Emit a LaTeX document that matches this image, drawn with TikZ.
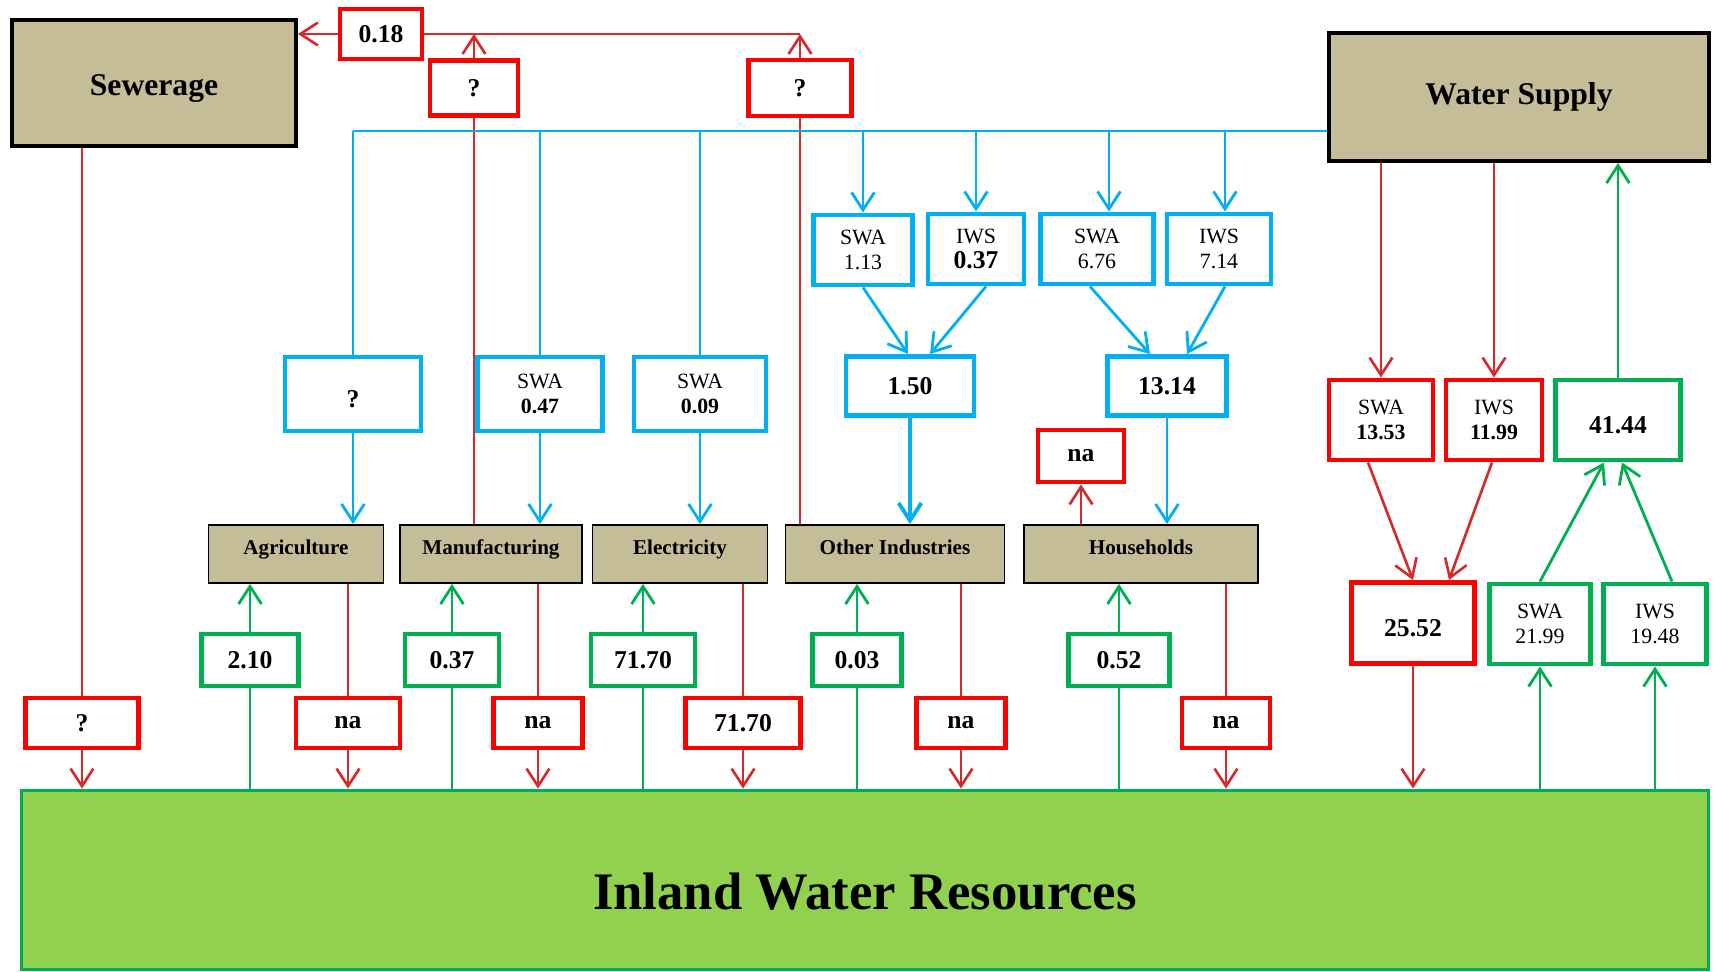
\documentclass[tikz,border=0pt]{standalone}
\usepackage{fontspec}
\setmainfont{Liberation Serif}
\usetikzlibrary{arrows.meta}
\definecolor{sectortan}{HTML}{C4BD97}
\definecolor{flowred}{HTML}{D42A2A}
\definecolor{boxred}{HTML}{FF0000}
\definecolor{flowblue}{HTML}{00B0F0}
\definecolor{flowgreen}{HTML}{00B050}
\definecolor{landgreen}{HTML}{92D050}

\begin{document}
\begin{tikzpicture}[x=0.1mm,y=-0.1mm,
  >={Straight Barb[length=5pt,width=6.5pt]},
  box/.style={fill=white,line width=1.4pt,inner sep=1pt,minimum height=5mm,align=center,font=\fontsize{7.3}{8}\selectfont\bfseries},
  redbox/.style={box,draw=boxred},
  bluebox/.style={box,draw=flowblue},
  greenbox/.style={box,draw=flowgreen},
  pair/.style={font=\fontsize{6.2}{7}\selectfont},
  sector/.style={draw=black,fill=sectortan,line width=0.5pt,minimum height=5.8mm,text height=3pt,text depth=3pt,font=\fontsize{6}{7}\selectfont\bfseries},
  head/.style={draw=black,fill=sectortan,line width=1.1pt,font=\fontsize{9}{10}\selectfont\bfseries},
  redline/.style={draw=flowred,line width=0.75pt},
  blueline/.style={draw=flowblue,line width=0.8pt},
  greenline/.style={draw=flowgreen,line width=0.8pt}]
  \useasboundingbox (0,0) rectangle (1718,972);

  % main units
  \node [head,minimum width=28.4mm,minimum height=12.6mm,text height=8pt,text depth=1pt] (sewer) at (154,83) {Sewerage};
  \node [head,minimum width=38mm,minimum height=12.8mm] (supply) at (1519,97) {Water Supply};
  \node [draw=flowgreen,fill=landgreen,line width=1.1pt,minimum width=168.7mm,minimum height=17.9mm,text height=17pt,text depth=0pt,font=\fontsize{15}{18}\selectfont\bfseries] (inland) at (865,880) {Inland Water Resources};

  % sectors
  \node [sector,minimum width=17.5mm] (agri) at (296,554) {Agriculture};
  \node [sector,minimum width=18.2mm] (manu) at (491,554) {Manufacturing};
  \node [sector,minimum width=17.5mm] (elec) at (680,554) {Electricity};
  \node [sector,minimum width=21.9mm] (other) at (895,554) {Other Industries};
  \node [sector,minimum width=23.4mm] (house) at (1141,554) {Households};

  % flows to sewerage
  \node [redbox,minimum width=8.2mm] (sewtotal) at (381,34) {0.18};
  \node [redbox,minimum width=8.8mm,minimum height=5.5mm] (sewmanu) at (474,88) {?};
  \node [redbox,minimum width=10.3mm,minimum height=5.6mm] (sewother) at (800,88) {?};

  % water supplied to the sectors
  \coordinate (bus) at (353,131);
  \node [bluebox,minimum width=13.6mm,minimum height=7.4mm] (useagri) at (353,394) {\mbox{}\\?};
  \node [bluebox,pair,minimum width=12.5mm,minimum height=7.4mm] (usemanu) at (540,394) {SWA\\\textbf{0.47}};
  \node [bluebox,pair,minimum width=13.2mm,minimum height=7.4mm] (useelec) at (700,394) {SWA\\\textbf{0.09}};
  \node [bluebox,pair,minimum width=9.9mm,minimum height=7mm] (swaother) at (863,250) {SWA\\1.13};
  \node [bluebox,pair,minimum width=9.6mm,minimum height=7mm] (iwsother) at (976,249) {IWS\\\textbf{\fontsize{7.3}{7}\selectfont 0.37}};
  \node [bluebox,pair,minimum width=11.3mm,minimum height=7mm] (swahouse) at (1097,249) {SWA\\6.76};
  \node [bluebox,pair,minimum width=10.4mm,minimum height=7mm] (iwshouse) at (1219,249) {IWS\\7.14};
  \node [bluebox,minimum width=12.8mm,minimum height=5.9mm] (useother) at (910,386) {1.50};
  \node [bluebox,minimum width=11.9mm,minimum height=5.9mm] (usehouse) at (1167,386) {13.14};
  \node [redbox,minimum width=8.6mm,minimum height=5.2mm] (houseloss) at (1081,456) {na};

  % abstraction and discharge
  \node [greenbox,minimum width=9.7mm,minimum height=5.2mm] (absagri) at (250,660) {2.10};
  \node [greenbox,minimum width=9.4mm,minimum height=5.2mm] (absmanu) at (452,660) {0.37};
  \node [greenbox,minimum width=10.4mm,minimum height=5.2mm] (abselec) at (643,660) {71.70};
  \node [greenbox,minimum width=8.9mm,minimum height=5.2mm] (absother) at (857,660) {0.03};
  \node [greenbox,minimum width=10.1mm,minimum height=5.2mm] (abshouse) at (1119,660) {0.52};
  \node [redbox,minimum width=11.3mm] (dissewer) at (82,723) {?};
  \node [redbox,minimum width=10.4mm] (disagri) at (348,723) {na};
  \node [redbox,minimum width=8.9mm] (dismanu) at (538,723) {na};
  \node [redbox,minimum width=11.5mm] (diselec) at (743,723) {71.70};
  \node [redbox,minimum width=8.9mm] (disother) at (961,723) {na};
  \node [redbox,minimum width=8.8mm] (dishouse) at (1226,723) {na};

  % water supply side
  \node [redbox,pair,minimum width=10.4mm,minimum height=8mm] (swasupply) at (1381,420) {SWA\\\textbf{13.53}};
  \node [redbox,pair,minimum width=9.6mm,minimum height=8mm] (iwssupply) at (1494,420) {IWS\\\textbf{11.99}};
  \node [greenbox,minimum width=12.5mm,minimum height=8mm] (abssupply) at (1618,420) {\mbox{}\\41.44};
  \node [redbox,minimum width=12.3mm,minimum height=8.1mm] (dissupply) at (1413,623) {\mbox{}\\25.52};
  \node [greenbox,pair,minimum width=10.1mm,minimum height=8mm] (swaabs) at (1540,624) {SWA\\21.99};
  \node [greenbox,pair,minimum width=10.3mm,minimum height=8mm] (iwsabs) at (1655,624) {IWS\\19.48};

  % red: to sewerage
  \draw [redline,->] (sewtotal) -- (sewtotal -| sewer.east);
  \draw [redline] (sewtotal) -- (sewtotal -| sewother);
  \draw [redline,->] (sewmanu) -- (sewmanu |- sewtotal);
  \draw [redline,->] (sewother) -- (sewother |- sewtotal);
  \draw [redline] (manu.north -| sewmanu) -- (sewmanu);
  \draw [redline] (other.north -| sewother) -- (sewother);

  % blue: distribution
  \draw [blueline] (bus) -- (bus -| supply.west);
  \draw [blueline] (bus) -- (useagri);
  \draw [blueline] (bus -| usemanu) -- (usemanu);
  \draw [blueline] (bus -| useelec) -- (useelec);
  \draw [blueline,->] (bus -| swaother) -- (swaother);
  \draw [blueline,->] (bus -| iwsother) -- (iwsother);
  \draw [blueline,->] ([xshift=1.2mm]bus -| swahouse) -- ([xshift=1.2mm]swahouse.north);
  \draw [blueline,->] ([xshift=0.6mm]bus -| iwshouse) -- ([xshift=0.6mm]iwshouse.north);
  \draw [blueline,->] (useagri) -- (useagri |- agri.north);
  \draw [blueline,->] (usemanu) -- (usemanu |- manu.north);
  \draw [blueline,->] (useelec) -- (useelec |- elec.north);
  \draw [blueline,->] (swaother.south) -- ([xshift=-0.2mm]useother.north);
  \draw [blueline,->] ([xshift=1mm]iwsother.south) -- ([xshift=2mm]useother.north);
  \draw [blueline,->] ([xshift=-0.7mm]swahouse.south) -- ([xshift=-1.7mm]usehouse.north);
  \draw [blueline,->] ([xshift=0.6mm]iwshouse.south) -- ([xshift=2mm]usehouse.north);
  \draw [blueline,line width=1.1pt,->] (useother) -- (useother |- other.north);
  \draw [blueline,->] (usehouse) -- (usehouse |- house.north);
  \draw [redline,->] (house.north -| houseloss) -- (houseloss);

  % green up, red down
  \draw [redline] (sewer.south -| dissewer) -- (dissewer);
  \draw [redline,->] (dissewer) -- (dissewer |- inland.north);
  \draw [greenline] (inland.north -| absagri) -- (absagri);
  \draw [greenline,->] (absagri) -- (absagri |- agri.south);
  \draw [redline] (agri.south -| disagri) -- (disagri);
  \draw [redline,->] (disagri) -- (disagri |- inland.north);
  \draw [greenline] (inland.north -| absmanu) -- (absmanu);
  \draw [greenline,->] (absmanu) -- (absmanu |- manu.south);
  \draw [redline] (manu.south -| dismanu) -- (dismanu);
  \draw [redline,->] (dismanu) -- (dismanu |- inland.north);
  \draw [greenline] (inland.north -| abselec) -- (abselec);
  \draw [greenline,->] (abselec) -- (abselec |- elec.south);
  \draw [redline] (elec.south -| diselec) -- (diselec);
  \draw [redline,->] (diselec) -- (diselec |- inland.north);
  \draw [greenline] (inland.north -| absother) -- (absother);
  \draw [greenline,->] (absother) -- (absother |- other.south);
  \draw [redline] (other.south -| disother) -- (disother);
  \draw [redline,->] (disother) -- (disother |- inland.north);
  \draw [greenline] (inland.north -| abshouse) -- (abshouse);
  \draw [greenline,->] (abshouse) -- (abshouse |- house.south);
  \draw [redline] (house.south -| dishouse) -- (dishouse);
  \draw [redline,->] (dishouse) -- (dishouse |- inland.north);

  % water supply flows
  \draw [redline,->] (supply.south -| swasupply) -- (swasupply);
  \draw [redline,->] (supply.south -| iwssupply) -- (iwssupply);
  \draw [greenline,->] (abssupply) -- (abssupply |- supply.south);
  \draw [redline,->] ([xshift=-1.3mm]swasupply.south) -- (dissupply.north);
  \draw [redline,->] ([xshift=-0.2mm]iwssupply.south) -- ([xshift=3.6mm]dissupply.north);
  \draw [redline,->] (dissupply) -- (dissupply |- inland.north);
  \draw [greenline,->] (swaabs.north) -- ([xshift=-1.4mm]abssupply.south);
  \draw [greenline,->] ([xshift=1.7mm]iwsabs.north) -- ([xshift=0.4mm]abssupply.south);
  \draw [greenline,->] (inland.north -| swaabs) -- (swaabs);
  \draw [greenline,->] (inland.north -| iwsabs) -- (iwsabs);
\end{tikzpicture}
\end{document}
